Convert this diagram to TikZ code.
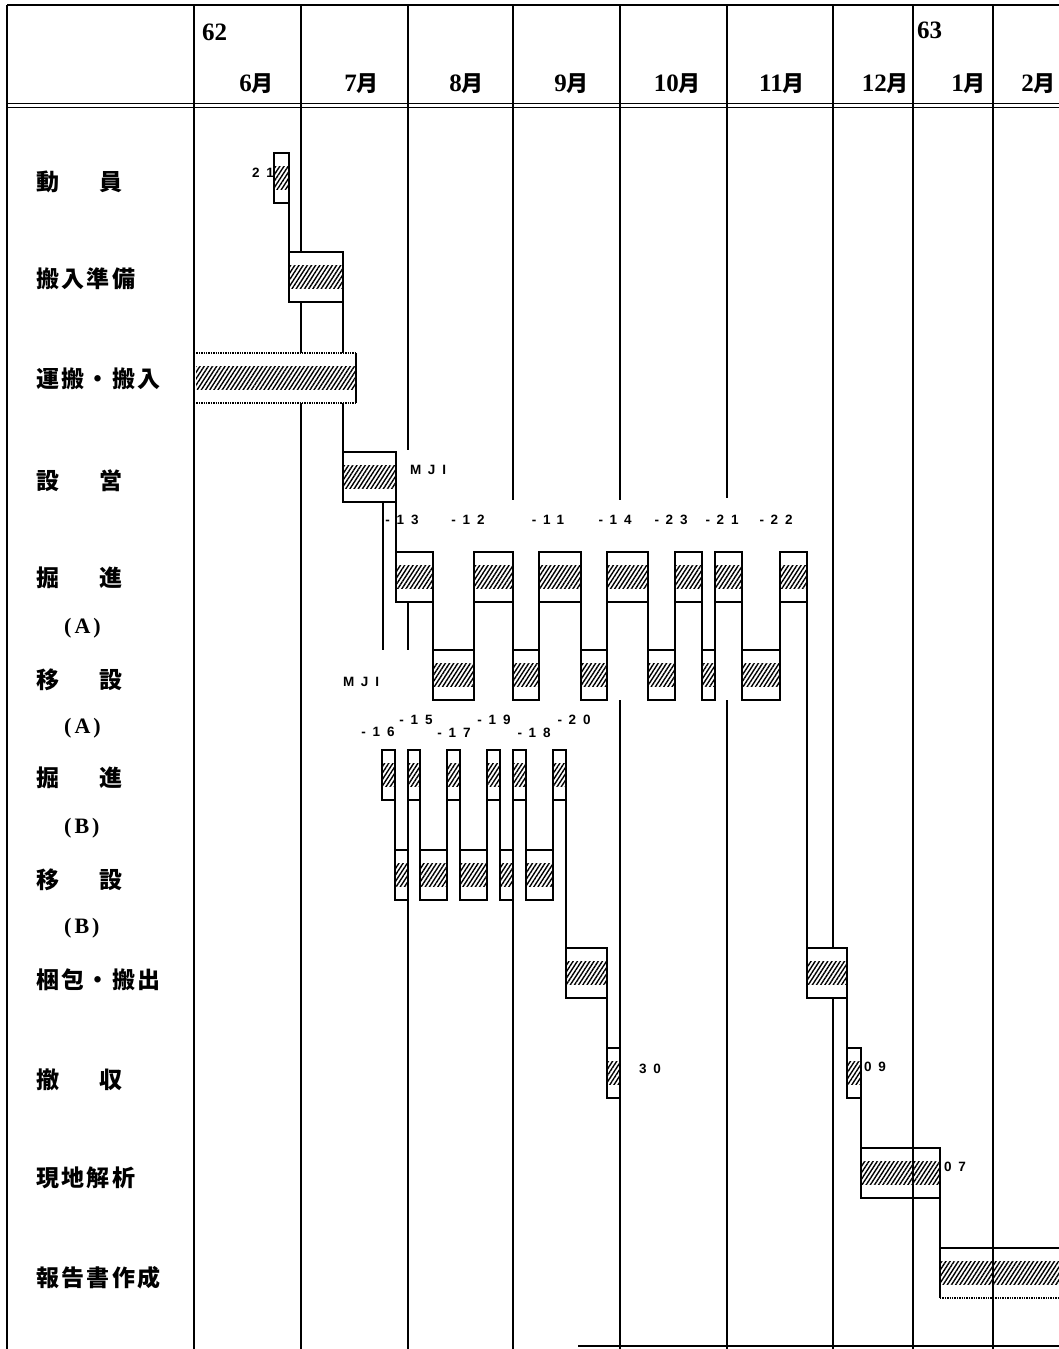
\documentclass[tikz,border=0pt]{standalone}
\usepackage{fontspec}
\setmainfont{Liberation Serif}
\newfontfamily\jp[LetterSpace=10]{Noto Sans CJK JP}
\newfontfamily\jpm{Noto Sans CJK JP}
\newfontfamily\lbl[LetterSpace=50]{Liberation Sans}
\usetikzlibrary{patterns.meta}
\tikzset{
 gridln/.style={line width=2.2pt},
 boxln/.style={line width=1.4pt},
 conn/.style={line width=1.4pt},
 hatch/.style={pattern={Lines[angle=57,distance=3.5pt,line width=1.4pt]}},
 rowlbl/.style={anchor=west, inner sep=0pt, font=\fontsize{23}{23}\selectfont\jp\bfseries},
 sublbl/.style={anchor=west, inner sep=0pt, font=\fontsize{22}{22}\selectfont\bfseries},
 numlbl/.style={inner sep=0pt, font=\fontsize{13.5}{13.5}\selectfont\lbl\bfseries},
 mon/.style={anchor=east, inner sep=0pt, font=\fontsize{25}{25}\selectfont\bfseries},
 yr/.style={anchor=west, inner sep=0pt, font=\fontsize{25}{25}\selectfont\bfseries},
}
\newcommand\gbox[3]{%
 \fill[white] (#1,#3) rectangle (#2,#3+50);
 \fill[hatch] (#1,#3+13) rectangle (#2,#3+36);
 \draw[boxln] (#1,#3) rectangle (#2,#3+50);}
\newcommand\gboxo[3]{%
 \fill[hatch] (#1,#3+13) rectangle (#2,#3+36);
 \draw[boxln] (#1,#3) rectangle (#2,#3+50);}
\newcommand\mo[1]{#1{\jpm\fontsize{22}{22}\selectfont 月}}
\begin{document}
\begin{tikzpicture}[x=1pt,y=-1pt]
\useasboundingbox (0,0) rectangle (1059,1349);
% frame
\draw[gridln] (7,5) -- (1059,5);
\draw[gridln] (7,5) -- (7,1349);
\draw[line width=1pt] (7,103.5) -- (1059,103.5);
\draw[line width=1pt] (7,107.5) -- (1059,107.5);
\draw[line width=1.5pt] (578,1346) -- (1059,1346);
% month grid lines
\draw[gridln] (194,5) -- (194,1349);
\draw[gridln] (301,5) -- (301,252) (301,303) -- (301,353) (301,403) -- (301,1349);
\draw[gridln] (408,5) -- (408,450) (408,602) -- (408,650) (408,750) -- (408,1349);
\draw[gridln] (513,5) -- (513,500) (513,750) -- (513,1349);
\draw[gridln] (620,5) -- (620,500) (620,700) -- (620,1349);
\draw[gridln] (727,5) -- (727,498) (727,700) -- (727,1349);
\draw[gridln] (833,5) -- (833,1349);
\draw[gridln] (913,5) -- (913,1349);
\draw[gridln] (993,5) -- (993,1349);
% header
\node[yr] (y62) at (202,32) {62};
\node[yr] (y63) at (917,30) {63};
\node[mon] (m6) at (274,84) {\mo{6}};
\node[mon] (m7) at (379,84) {\mo{7}};
\node[mon] (m8) at (484,84) {\mo{8}};
\node[mon] (m9) at (589,84) {\mo{9}};
\node[mon] (m10) at (701,84) {\mo{10}};
\node[mon] (m11) at (805,84) {\mo{11}};
\node[mon] (m12) at (909,84) {\mo{12}};
\node[mon] (m1) at (986,84) {\mo{1}};
\node[mon] (m2) at (1056,84) {\mo{2}};
% row labels
\node[rowlbl] (r1) at (36,182) {動\hspace{40pt}員};
\node[rowlbl] (r2) at (36,279) {搬入準備};
\node[rowlbl] (r3) at (36,379) {運搬・搬入};
\node[rowlbl] (r4) at (36,481) {設\hspace{40pt}営};
\node[rowlbl] (r5) at (36,578) {掘\hspace{40pt}進};
\node[sublbl] (r5s) at (64,628) {(\kern3pt A\kern3pt)};
\node[rowlbl] (r6) at (36,680) {移\hspace{40pt}設};
\node[sublbl] (r6s) at (64,728) {(\kern3pt A\kern3pt)};
\node[rowlbl] (r7) at (36,778) {掘\hspace{40pt}進};
\node[sublbl] (r7s) at (64,828) {(\kern3pt B\kern3pt)};
\node[rowlbl] (r8) at (36,880) {移\hspace{40pt}設};
\node[sublbl] (r8s) at (64,928) {(\kern3pt B\kern3pt)};
\node[rowlbl] (r9) at (36,980) {梱包・搬出};
\node[rowlbl] (r10) at (36,1080) {撤\hspace{40pt}収};
\node[rowlbl] (r11) at (36,1178) {現地解析};
\node[rowlbl] (r12) at (36,1278) {報告書作成};
% connectors
\draw[conn] (289,203) -- (289,252);
\draw[conn] (343,303) -- (343,353) (343,403) -- (343,452);
\draw[conn] (383,502) -- (383,650);
\draw[conn] (396,502) -- (396,552);
\foreach \xx in {433,474,513,539,581,607,648,675,702,715,742,780}
  \draw[conn] (\xx,602) -- (\xx,650);
\draw[conn] (807,602) -- (807,948);
\foreach \xx in {395,408,420,447,460,487,500,513,526,553}
  \draw[conn] (\xx,800) -- (\xx,850);
\draw[conn] (566,800) -- (566,948);
\draw[conn] (607,998) -- (607,1048);
\draw[conn] (847,998) -- (847,1048);
\draw[conn] (861,1098) -- (861,1148);
\draw[conn] (940,1198) -- (940,1248);
% bars
\gbox{274}{289}{153}
\gbox{289}{343}{252}
% transport bar (started before June)
\fill[white] (195,353) rectangle (356,403);
\fill[hatch] (196,366) rectangle (356,389);
\draw[line width=1.4pt, densely dotted] (194,353) -- (356,353) (194,403) -- (356,403);
\draw[boxln] (356,353) -- (356,403);
\gbox{343}{396}{452}
\foreach \a/\b in {396/433,474/513,539/581,607/648,675/702,715/742,780/807}
  {\gbox{\a}{\b}{552}}
\foreach \a/\b in {433/474,513/539,581/607,648/675,702/715,742/780}
  {\gbox{\a}{\b}{650}}
\foreach \a/\b in {382/395,408/420,447/460,487/500,513/526,553/566}
  {\gbox{\a}{\b}{750}}
\foreach \a/\b in {395/408,420/447,460/487,500/513,526/553}
  {\gbox{\a}{\b}{850}}
\gbox{566}{607}{948}
\gbox{807}{847}{948}
\gbox{607}{620}{1048}
\gbox{847}{861}{1048}
\gboxo{861}{940}{1148}
\fill[hatch] (940,1261) rectangle (1070,1284);
\draw[boxln] (1070,1248) -- (940,1248) -- (940,1298);
\draw[line width=1.4pt, densely dotted] (940,1298) -- (1070,1298);
% small labels
\node[numlbl] (n21) at (263,173) {21};
\node[numlbl] (mji1) at (428,470) {MJI};
\node[numlbl] (a13) at (402,520) {-13};
\node[numlbl] (a12) at (468,520) {-12};
\node[numlbl] (a11) at (548,520) {-11};
\node[numlbl] (a14) at (615,520) {-14};
\node[numlbl] (a23) at (671,520) {-23};
\node[numlbl] (a21) at (722,520) {-21};
\node[numlbl] (a22) at (776,520) {-22};
\node[numlbl] (mji2) at (361,682) {MJI};
\node[numlbl] (b16) at (378,732) {-16};
\node[numlbl] (b15) at (416,720) {-15};
\node[numlbl] (b17) at (454,733) {-17};
\node[numlbl] (b19) at (494,720) {-19};
\node[numlbl] (b18) at (534,733) {-18};
\node[numlbl] (b20) at (574,720) {-20};
\node[numlbl] (n30) at (650,1069) {30};
\node[numlbl] (n09) at (875,1067) {09};
\node[numlbl] (n07) at (955,1167) {07};
\end{tikzpicture}
\end{document}
